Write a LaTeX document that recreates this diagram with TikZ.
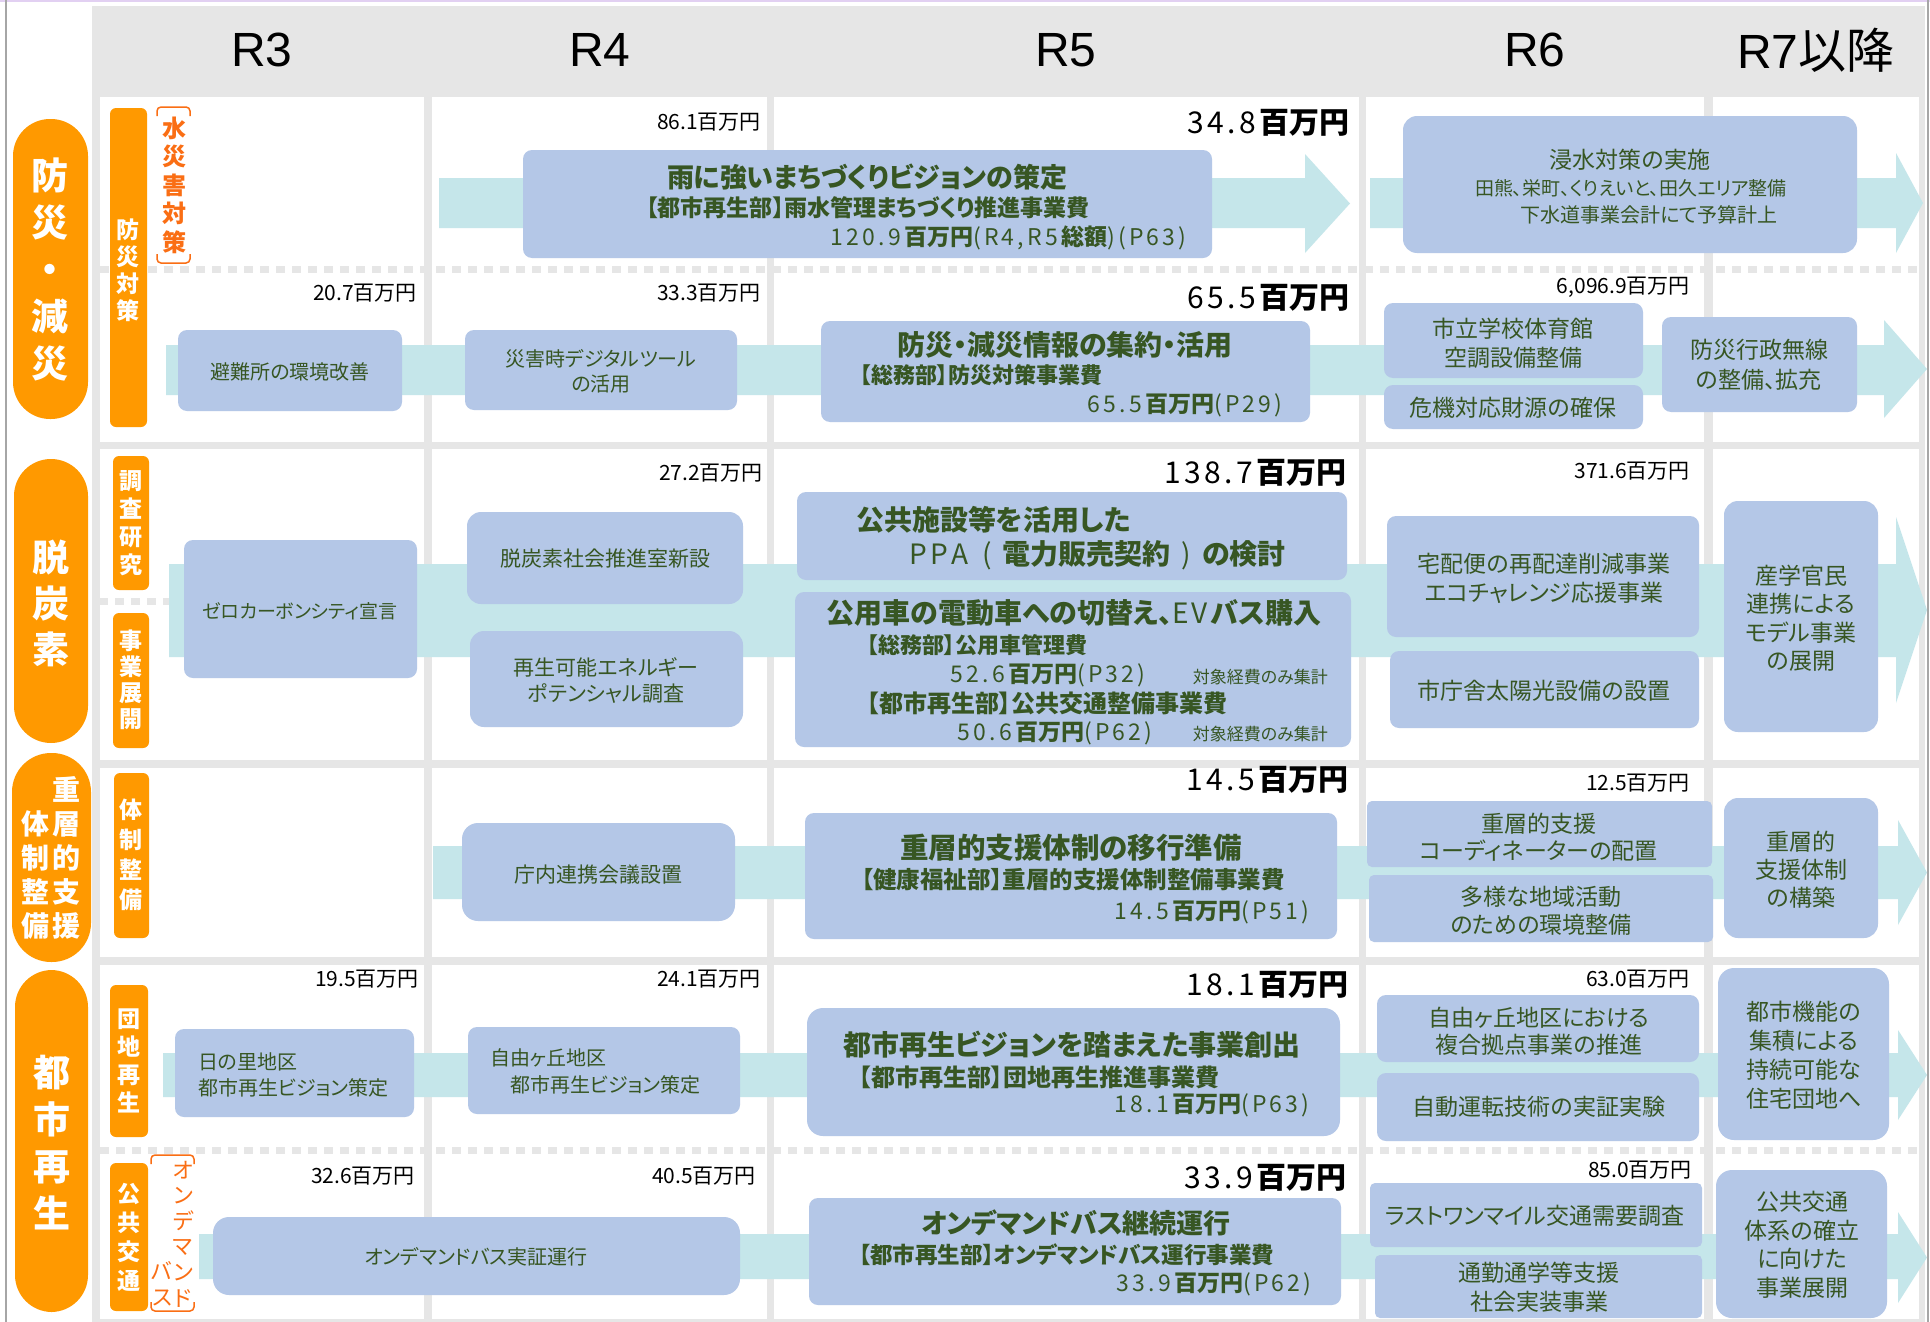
\documentclass[tikz,border=0pt]{standalone}
\usepackage{fontspec}
\setmainfont{Noto Sans CJK JP}[RawFeature=+palt]
\newfontfamily\lat{Liberation Sans}
\usetikzlibrary{fit}
\definecolor{gbg}{HTML}{E6E6E6}
\definecolor{boxc}{HTML}{B4C7E7}
\definecolor{bandc}{HTML}{C5E6EA}
\definecolor{orng}{HTML}{FF9900}
\definecolor{ored}{HTML}{FA6E14}
\definecolor{txtc}{HTML}{375623}
\definecolor{lav}{HTML}{E2D0F2}
\definecolor{edgec}{HTML}{A6A6A6}
\newcommand\fs[2]{\fontsize{#1}{#2}\selectfont}
\newdimen\spk \spk=3.2pt
\makeatletter
\def\spc#1{\spc@#1\@nil}
\def\spc@#1{\ifx#1\@nil\else#1\kern\spk\expandafter\spc@\fi}
\makeatother
\newcommand\bgm[1]{{\spk=3.5pt\spc{#1}}\textbf{百万円}}
\newcommand\yen[2]{\spc{#1}\textbf{百万円}\spc{#2}}
\newcommand\aband[7]{\fill[band] (#1,#2) -- (#4,#2) -- (#4,#5) -- (#7,{(#5+#6)/2}) -- (#4,#6) -- (#4,#3) -- (#1,#3) -- cycle;}
\begin{document}
\begin{tikzpicture}[x=1pt,y=-1pt,
 bx/.style={fill=boxc,draw=none,rounded corners=9pt,inner sep=0pt,outer sep=0pt},
 pill/.style={fill=orng,draw=none,inner sep=0pt},
 band/.style={fill=bandc,draw=none},
 tx/.style={text=txtc,inner sep=0pt,align=center},
 money/.style={inner sep=0pt,anchor=east,text=black,font=\fs{21}{25}},
 bigmoney/.style={inner sep=0pt,anchor=east,text=black,font=\fs{30}{34}},
 vt/.style={inner sep=0pt,text=white,align=center},
 dashrow/.style={draw=gbg,line width=7pt,dash pattern=on 9pt off 7pt},
 hdr/.style={inner sep=0pt,font=\fs{48}{52}},
]
\useasboundingbox (0,0) rectangle (1930,1322);
\fill[white] (0,0) rectangle (1930,1322);
\fill[lav] (0,0) rectangle (1930,2.5);
\draw[edgec,line width=1.5pt] (6,0) -- (6,1322);
\draw[edgec,line width=1.5pt] (1928,0) -- (1928,1322);
\fill[gbg] (92,6) rectangle (1925,1322);
\foreach \xa/\xb in {100/424,432/767,774/1359,1366/1704,1713/1919}
 \foreach \ya/\yb in {97/442,449/760,768/957,965/1319}
  \fill[white] (\xa,\ya) rectangle (\xb,\yb);
% dashed separators
\draw[dashrow] (100,269) -- (1919,269);
\draw[dashrow] (99,601) -- (169,601);
\draw[dashrow] (100,1150) -- (1919,1150);
% headers
\node[hdr] (h3) at (262,50) {\lat R3};
\node[hdr] (h4) at (600,50) {\lat R4};
\node[hdr] (h5) at (1066,50) {\lat R5};
\node[hdr] (h6) at (1535,50) {\lat R6};
\node[hdr] (h7) at (1816,50) {{\lat R7}以降};
% arrow bands
\aband{439}{178}{228}{1305}{154}{253}{1350}
\aband{1370}{178}{228}{1896}{153}{253}{1923}
\aband{166}{345}{395}{1884}{320}{418}{1927}
\aband{169}{564}{657}{1896}{517}{703}{1927}
\aband{433}{846}{899}{1898}{820}{925}{1927}
\aband{163}{1053}{1097}{1898}{1030}{1120}{1927}
\aband{199}{1234}{1279}{1898}{1212}{1303}{1927}
% boxes
\node[bx,fit={(523,150) (1212,258)}] (b1) {};
\node[bx,rounded corners=14pt,fit={(1403,116) (1857,253)}] (b2) {};
\node[bx,fit={(178,330) (402,411)}] (b3) {};
\node[bx,fit={(465,330) (737,410)}] (b4) {};
\node[bx,fit={(821,321) (1310,422)}] (b5) {};
\node[bx,fit={(1384,303) (1643,378)}] (b6) {};
\node[bx,fit={(1384,385) (1643,429)}] (b7) {};
\node[bx,fit={(1662,317) (1857,412)}] (b8) {};
\node[bx,fit={(184,540) (417,678)}] (b9) {};
\node[bx,rounded corners=14pt,fit={(467,512) (743,604)}] (b10) {};
\node[bx,rounded corners=14pt,fit={(470,631) (743,727)}] (b11) {};
\node[bx,fit={(797,492) (1347,580)}] (b12) {};
\node[bx,fit={(795,592) (1351,747)}] (b13) {};
\node[bx,fit={(1387,516) (1699,637)}] (b14) {};
\node[bx,fit={(1390,651) (1699,728)}] (b15) {};
\node[bx,rounded corners=14pt,fit={(1724,501) (1878,732)}] (b16) {};
\node[bx,rounded corners=16pt,fit={(462,823) (735,921)}] (b17) {};
\node[bx,fit={(805,813) (1337,939)}] (b18) {};
\node[bx,rounded corners=5pt,fit={(1367,801) (1712,867)}] (b19) {};
\node[bx,rounded corners=5pt,fit={(1369,875) (1713,942)}] (b20) {};
\node[bx,rounded corners=14pt,fit={(1724,798) (1878,938)}] (b21) {};
\node[bx,fit={(175,1029) (414,1117)}] (b22) {};
\node[bx,fit={(468,1027) (740,1114)}] (b23) {};
\node[bx,rounded corners=16pt,fit={(807,1008) (1340,1136)}] (b24) {};
\node[bx,fit={(1377,995) (1699,1062)}] (b25) {};
\node[bx,fit={(1377,1073) (1699,1141)}] (b26) {};
\node[bx,rounded corners=16pt,fit={(1718,968) (1889,1140)}] (b27) {};
\node[bx,rounded corners=16pt,fit={(213,1217) (740,1295)}] (b28) {};
\node[bx,fit={(809,1198) (1341,1305)}] (b29) {};
\node[bx,rounded corners=5pt,fit={(1370,1183) (1702,1247)}] (b30) {};
\node[bx,rounded corners=5pt,fit={(1375,1255) (1702,1318)}] (b31) {};
\node[bx,rounded corners=16pt,fit={(1716,1170) (1887,1318)}] (b32) {};
% box texts
\node[tx,font=\bfseries\fs{27}{30}] (t1a) at (867,177) {雨に強いまちづくりビジョンの策定};
\node[tx,font=\bfseries\fs{23}{26}] (t1b) at (868,208) {【都市再生部】雨水管理まちづくり推進事業費};
\node[tx,anchor=east,font=\fs{23}{26}] (t1c) at (1190,238) {\spc{120.9}\textbf{百万円}\spc{(R4,R5}\textbf{総額}\spc{)(P63)}};
\node[tx,font=\fs{23}{27}] (t2a) at (1630,160) {浸水対策の実施};
\node[tx,font=\fs{19}{23}] (t2b) at (1631,188) {田熊、栄町、くりえいと、田久エリア整備};
\node[tx,font=\fs{20}{24}] (t2c) at (1649,215) {下水道事業会計にて予算計上};
\node[tx,font=\fs{20}{24}] (t3) at (290,372) {避難所の環境改善};
\node[tx,font=\fs{20}{25}] (t4) at (601,371) {災害時デジタルツール\\の活用};
\node[tx,font=\bfseries\fs{28}{30}] (t5a) at (1065,345) {防災・減災情報の集約・活用};
\node[tx,anchor=west,font=\bfseries\fs{22}{26}] (t5b) at (860,375) {【総務部】防災対策事業費};
\node[tx,anchor=east,font=\fs{23}{26}] (t5c) at (1286,405) {\yen{65.5}{(P29)}};
\node[tx,font=\fs{23}{29}] (t6) at (1513,343) {市立学校体育館\\空調設備整備};
\node[tx,font=\fs{23}{27}] (t7) at (1513,408) {危機対応財源の確保};
\node[tx,font=\fs{23}{30}] (t8) at (1759,365) {防災行政無線\\の整備、拡充};
\node[tx,font=\fs{19}{23}] (t9) at (300,611) {ゼロカーボンシティ宣言};
\node[tx,font=\fs{21}{25}] (t10) at (605,559) {脱炭素社会推進室新設};
\node[tx,font=\fs{21}{26}] (t11) at (606,680) {再生可能エネルギー\\ポテンシャル調査};
\node[tx,anchor=west,font=\bfseries\fs{28}{30}] (t12a) at (856,520) {公共施設等を活用した};
\node[tx,anchor=west,font=\fs{28}{30}] (t12b) at (909,555) {\spc{PPA}\hspace{11pt}(\hspace{11pt}\textbf{電力販売契約}\hspace{11pt})\hspace{11pt}\textbf{の検討}};
\node[tx,font=\bfseries\fs{28}{30}] (t13a) at (1074,613) {公用車の電動車への切替え、{\mdseries\spc{EV}}バス購入};
\node[tx,anchor=west,font=\bfseries\fs{22}{26}] (t13b) at (867,645) {【総務部】公用車管理費};
\node[tx,anchor=east,font=\fs{23}{26}] (t13c) at (1149,675) {\yen{52.6}{(P32)}};
\node[tx,anchor=east,font=\fs{17}{20}] (t13d) at (1328,677) {対象経費のみ集計};
\node[tx,anchor=west,font=\bfseries\fs{24}{26}] (t13e) at (867,703) {【都市再生部】公共交通整備事業費};
\node[tx,anchor=east,font=\fs{23}{26}] (t13f) at (1156,733) {\yen{50.6}{(P62)}};
\node[tx,anchor=east,font=\fs{17}{20}] (t13g) at (1328,734) {対象経費のみ集計};
\node[tx,font=\fs{23}{29}] (t14) at (1544,578) {宅配便の再配達削減事業\\エコチャレンジ応援事業};
\node[tx,font=\fs{23}{27}] (t15) at (1544,691) {市庁舎太陽光設備の設置};
\node[tx,font=\fs{23}{28.5}] (t16) at (1801,618) {産学官民\\連携による\\モデル事業\\の展開};
\node[tx,font=\fs{21}{25}] (t17) at (598,875) {庁内連携会議設置};
\node[tx,font=\bfseries\fs{28.5}{32}] (t18a) at (1071,848) {重層的支援体制の移行準備};
\node[tx,font=\bfseries\fs{23.5}{26}] (t18b) at (1073,880) {【健康福祉部】重層的支援体制整備事業費};
\node[tx,anchor=east,font=\fs{23}{26}] (t18c) at (1313,912) {\yen{14.5}{(P51)}};
\node[tx,font=\fs{23}{27}] (t19) at (1539,837) {重層的支援\\コーディネーターの配置};
\node[tx,font=\fs{23}{28}] (t20) at (1541,911) {多様な地域活動\\のための環境整備};
\node[tx,font=\fs{23}{28}] (t21) at (1801,870) {重層的\\支援体制\\の構築};
\node[tx,anchor=west,align=left,font=\fs{20}{26}] (t22) at (198,1075) {日の里地区\\都市再生ビジョン策定};
\node[tx,anchor=west,font=\fs{20}{24}] (t23a) at (490,1058) {自由ヶ丘地区};
\node[tx,anchor=west,font=\fs{20}{24}] (t23b) at (510,1085) {都市再生ビジョン策定};
\node[tx,font=\bfseries\fs{28}{32}] (t24a) at (1072,1045) {都市再生ビジョンを踏まえた事業創出};
\node[tx,anchor=west,font=\bfseries\fs{24}{26}] (t24b) at (859,1077) {【都市再生部】団地再生推進事業費};
\node[tx,anchor=east,font=\fs{23}{26}] (t24c) at (1313,1105) {\yen{18.1}{(P63)}};
\node[tx,font=\fs{23}{27}] (t25) at (1539,1031) {自由ヶ丘地区における\\複合拠点事業の推進};
\node[tx,font=\fs{23}{27}] (t26) at (1539,1107) {自動運転技術の実証実験};
\node[tx,font=\fs{23}{29}] (t27) at (1804,1055) {都市機能の\\集積による\\持続可能な\\住宅団地へ};
\node[tx,font=\fs{20}{24}] (t28) at (476,1257) {オンデマンドバス実証運行};
\node[tx,font=\bfseries\fs{27}{30}] (t29a) at (1076,1223) {オンデマンドバス継続運行};
\node[tx,anchor=west,font=\bfseries\fs{22.5}{26}] (t29b) at (859,1255) {【都市再生部】オンデマンドバス運行事業費};
\node[tx,anchor=east,font=\fs{23}{26}] (t29c) at (1315,1284) {\yen{33.9}{(P62)}};
\node[tx,font=\fs{23}{27}] (t30) at (1535,1216) {ラストワンマイル交通需要調査};
\node[tx,font=\fs{23}{29}] (t31) at (1539,1287) {通勤通学等支援\\社会実装事業};
\node[tx,font=\fs{23}{28.5}] (t32) at (1802,1245) {公共交通\\体系の確立\\に向けた\\事業展開};
% money labels
\node[money] (m1) at (761,122) {86.1百万円};
\node[money] (m2) at (417,293) {20.7百万円};
\node[money] (m3) at (761,293) {33.3百万円};
\node[money] (m4) at (1690,287) {6,096.9百万円};
\node[money] (m5) at (763,473) {27.2百万円};
\node[money] (m6) at (1690,471) {371.6百万円};
\node[money] (m7) at (1690,783) {12.5百万円};
\node[money] (m8) at (419,979) {19.5百万円};
\node[money] (m9) at (761,979) {24.1百万円};
\node[money] (m10) at (1690,979) {63.0百万円};
\node[money] (m11) at (415,1176) {32.6百万円};
\node[money] (m12) at (756,1176) {40.5百万円};
\node[money] (m13) at (1692,1170) {85.0百万円};
\node[bigmoney] (g1) at (1350,123) {\bgm{34.8}};
\node[bigmoney] (g2) at (1350,298) {\bgm{65.5}};
\node[bigmoney] (g3) at (1347,473) {\bgm{138.7}};
\node[bigmoney] (g4) at (1349,780) {\bgm{14.5}};
\node[bigmoney] (g5) at (1349,985) {\bgm{18.1}};
\node[bigmoney] (g6) at (1347,1178) {\bgm{33.9}};
% category pills
\node[pill,rounded corners=37pt,fit={(13,119) (88,419)}] (p1) {};
\node[vt,font=\bfseries\fs{37}{47}] (p1t) at (50,270) {防\\災\\・\\減\\災};
\node[pill,rounded corners=37pt,fit={(14,459) (88,743)}] (p2) {};
\node[vt,font=\bfseries\fs{37}{46}] (p2t) at (51,603) {脱\\炭\\素};
\node[pill,rounded corners=39pt,fit={(12,753) (91,962)}] (p3) {};
\node[vt,font=\bfseries\fs{28}{34}] (p3r) at (66,858) {重\\層\\的\\支\\援};
\node[vt,font=\bfseries\fs{28}{34}] (p3l) at (35,875) {体\\制\\整\\備};
\node[pill,rounded corners=37pt,fit={(15,970) (88,1312)}] (p4) {};
\node[vt,font=\bfseries\fs{37}{47}] (p4t) at (52,1143) {都\\市\\再\\生};
% sub bars
\node[pill,rounded corners=6pt,fit={(110,108) (147,427)}] (s1) {};
\node[vt,font=\bfseries\fs{23}{27}] (s1t) at (128,270) {防\\災\\対\\策};
\node[pill,rounded corners=6pt,fit={(113,456) (149,590)}] (s2) {};
\node[vt,font=\bfseries\fs{23}{28}] (s2t) at (131,523) {調\\査\\研\\究};
\node[pill,rounded corners=6pt,fit={(113,613) (149,748)}] (s3) {};
\node[vt,font=\bfseries\fs{23}{26}] (s3t) at (131,680) {事\\業\\展\\開};
\node[pill,rounded corners=6pt,fit={(114,773) (149,938)}] (s4) {};
\node[vt,font=\bfseries\fs{23}{30}] (s4t) at (131,855) {体\\制\\整\\備};
\node[pill,rounded corners=6pt,fit={(110,985) (148,1137)}] (s5) {};
\node[vt,font=\bfseries\fs{23}{28}] (s5t) at (129,1061) {団\\地\\再\\生};
\node[pill,rounded corners=6pt,fit={(110,1163) (148,1311)}] (s6) {};
\node[vt,font=\bfseries\fs{23}{29}] (s6t) at (129,1237) {公\\共\\交\\通};
% brackets
\draw[ored,line width=1.5pt,rounded corners=4pt] (157,116) -- (157,107) -- (190,107) -- (190,116);
\draw[ored,line width=1.5pt,rounded corners=4pt] (157,254) -- (157,263) -- (190,263) -- (190,254);
\node[vt,text=ored,font=\bfseries\fs{24}{28.5}] (k1) at (174,185) {水\\災\\害\\対\\策};
\draw[ored,line width=1.5pt,rounded corners=4pt] (151,1164) -- (151,1155) -- (194,1155) -- (194,1164);
\draw[ored,line width=1.5pt,rounded corners=4pt] (151,1302) -- (151,1311) -- (194,1311) -- (194,1302);
\node[vt,text=ored,font=\fs{22}{25.6}] (k2r) at (183,1234) {オ\\ン\\デ\\マ\\ン\\ド};
\node[vt,text=ored,font=\fs{22}{25.6}] (k2l) at (162,1284) {バ\\ス};
\end{tikzpicture}
\end{document}
